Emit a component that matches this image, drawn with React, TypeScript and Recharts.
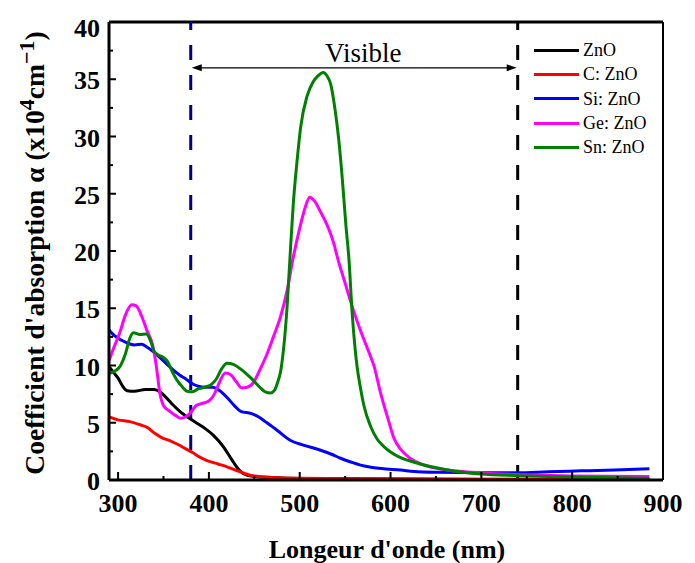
import { LineChart, Line, XAxis, YAxis, ReferenceLine, Legend } from "recharts";

const FONT = "'Liberation Serif', 'Times New Roman', serif";

// wavelength (nm), alpha (x10^4 cm-1) pairs
const ZNO: [number, number][] = [
  [290, 9.9], [295, 9.4], [300, 8.9], [305, 8.2], [310, 7.8], [318, 7.75], [330, 7.9],
  [340, 7.9], [346, 7.7], [353, 7.2], [360, 6.6], [368, 6.0], [380, 5.3], [394, 4.6],
  [405, 3.9], [416, 2.9], [425, 1.8], [431, 1.1], [438, 0.55], [450, 0.3], [480, 0.18],
  [550, 0.1], [700, 0.06], [885, 0.05],
];

const C_ZNO: [number, number][] = [
  [290, 5.5], [300, 5.25], [313, 5.1], [325, 4.8], [332, 4.6], [340, 4.1], [348, 3.7],
  [358, 3.4], [366, 3.1], [375, 2.7], [382, 2.4], [390, 2.0], [398, 1.7], [410, 1.4],
  [420, 1.15], [430, 0.85], [440, 0.55], [450, 0.35], [470, 0.22], [500, 0.15],
  [600, 0.08], [700, 0.05], [885, 0.05],
];

const SI_ZNO: [number, number][] = [
  [290, 13.1], [296, 12.6], [304, 12.2], [312, 11.9], [318, 11.8], [326, 11.85],
  [332, 11.6], [339, 11.2], [346, 10.7], [354, 10.1], [361, 9.6], [368, 9.15],
  [375, 8.8], [380, 8.5], [388, 8.2], [396, 8.1], [404, 8.1], [412, 7.8], [420, 7.2],
  [428, 6.5], [435, 6.0], [447, 5.8], [455, 5.5], [462, 5.1], [475, 4.35], [490, 3.45],
  [504, 3.05], [523, 2.6], [535, 2.25], [545, 1.9], [557, 1.55], [567, 1.3], [580, 1.1],
  [590, 1.0], [611, 0.87], [626, 0.75], [650, 0.68], [700, 0.64], [740, 0.64],
  [773, 0.72], [810, 0.8], [847, 0.88], [885, 0.98],
];

const GE_ZNO: [number, number][] = [
  [290, 10.4], [295, 11.5], [302, 12.9], [308, 14.4], [315, 15.3], [320, 15.2],
  [326, 14.3], [332, 13.0], [338, 11.8], [342, 10.0], [346, 7.6], [350, 6.5], [357, 6.0],
  [364, 5.6], [369, 5.4], [374, 5.5], [380, 5.9], [386, 6.5], [393, 6.7], [400, 6.9],
  [406, 7.5], [412, 8.6], [418, 9.35], [424, 9.2], [430, 8.6], [436, 8.05], [442, 8.1],
  [449, 8.5], [456, 9.6], [464, 11.0], [471, 12.5], [479, 14.3], [486, 16.5],
  [493, 19.5], [500, 22.0], [506, 23.8], [511, 24.7], [516, 24.4], [523, 23.4],
  [530, 22.3], [537, 20.8], [543, 19.0], [550, 17.2], [556, 15.6], [563, 13.9],
  [571, 12.2], [577, 11.0], [582, 9.9], [589, 7.6], [597, 5.4], [604, 3.6], [611, 2.7],
  [620, 2.0], [632, 1.45], [645, 1.1], [663, 0.87], [700, 0.62], [750, 0.45],
  [800, 0.35], [885, 0.3],
];

const SN_ZNO: [number, number][] = [
  [290, 9.3], [296, 9.5], [302, 9.9], [308, 11.0], [313, 12.4], [317, 12.85],
  [324, 12.7], [331, 12.75], [336, 12.1], [340, 11.2], [345, 10.9], [350, 10.7],
  [354, 10.4], [360, 9.4], [365, 8.7], [370, 8.2], [376, 7.75], [382, 7.7], [388, 7.95],
  [395, 8.1], [402, 8.3], [408, 8.8], [414, 9.7], [420, 10.2], [427, 10.1], [434, 9.75],
  [441, 9.3], [449, 8.7], [456, 8.1], [462, 7.7], [468, 7.6], [472, 7.8], [476, 8.6],
  [479, 9.5], [482, 11.3], [486, 15.0], [490, 20.4], [493, 24.2], [497, 27.8],
  [501, 30.8], [508, 33.5], [515, 34.8], [520, 35.3], [526, 35.6],
  [530, 35.3], [534, 34.6], [539, 32.3], [543, 29.7], [547, 26.2], [551, 22.1],
  [554, 19.5], [558, 14.3], [563, 10.0], [567, 8.0], [571, 6.4], [578, 4.7], [585, 3.6],
  [593, 2.9], [600, 2.45], [611, 1.95], [626, 1.55], [645, 1.15], [663, 0.87],
  [699, 0.52], [740, 0.38], [773, 0.3], [830, 0.22], [885, 0.15],
];

const SERIES = [
  { name: "ZnO", data: ZNO, color: "#000000" },
  { name: "C: ZnO", data: C_ZNO, color: "#ff0000" },
  { name: "Si: ZnO", data: SI_ZNO, color: "#0000ff" },
  { name: "Ge: ZnO", data: GE_ZNO, color: "#ff00ff" },
  { name: "Sn: ZnO", data: SN_ZNO, color: "#008000" },
];

const X_TICKS = [300, 350, 400, 450, 500, 550, 600, 650, 700, 750, 800, 850, 900];
const Y_TICKS = [0, 2.5, 5, 7.5, 10, 12.5, 15, 17.5, 20, 22.5, 25, 27.5, 30, 32.5, 35, 37.5, 40];

const UV_EDGE = 380;
const IR_EDGE = 740;

function XTick({ x, y, payload }: any) {
  const v = payload.value;
  const major = v % 100 === 0;
  return (
    <g>
      <line x1={x} x2={x} y1={y} y2={y - (major ? 8 : 4)} stroke="#000" strokeWidth={2} />
      {major && (
        <text x={x} y={y + 32} textAnchor="middle" fontFamily={FONT} fontWeight="bold" fontSize={26} fill="#000">
          {v}
        </text>
      )}
    </g>
  );
}

function YTick({ x, y, payload }: any) {
  const v = payload.value;
  const major = v % 5 === 0;
  // the top label sits a little lower than its tick in the original
  const dy = v === 40 ? 15 : 10;
  return (
    <g>
      <line x1={x} x2={x + (major ? 7 : 4)} y1={y} y2={y} stroke="#000" strokeWidth={2} />
      {major && (
        <text x={x - 9} y={y + dy} textAnchor="end" fontFamily={FONT} fontWeight="bold" fontSize={26} fill="#000">
          {v}
        </text>
      )}
    </g>
  );
}

function VisibleArrow({ x1, y1, x2 }: any) {
  const a = x1 + 1;
  const b = x2 - 1;
  return (
    <g>
      <line x1={a + 8} x2={b - 8} y1={y1} y2={y1} stroke="#000" strokeWidth={1.2} />
      <polygon points={`${a},${y1} ${a + 10},${y1 - 3.5} ${a + 10},${y1 + 3.5}`} fill="#000" />
      <polygon points={`${b},${y1} ${b - 10},${y1 - 3.5} ${b - 10},${y1 + 3.5}`} fill="#000" />
      <text x={(x1 + x2) / 2 + 9} y={y1 - 6} textAnchor="middle" fontFamily={FONT} fontSize={27} fill="#000">
        Visible
      </text>
    </g>
  );
}

function LegendBox() {
  return (
    <div style={{ fontFamily: FONT, fontSize: 18, color: "#000" }}>
      {SERIES.map((s) => (
        <div key={s.name} style={{ display: "flex", alignItems: "center", height: 24.3 }}>
          <div style={{ width: 45, height: 3, background: s.color, marginRight: 4 }} />
          <span style={{ lineHeight: "18px" }}>{s.name}</span>
        </div>
      ))}
    </div>
  );
}

export default function App() {
  return (
    <div style={{ position: "absolute", left: 0, top: 0, width: 695, height: 563, background: "#fff" }}>
      <LineChart width={695} height={563} margin={{ top: 22, right: 32, bottom: 0, left: 0 }}>
        <XAxis
          dataKey="x"
          type="number"
          domain={[290, 900]}
          ticks={X_TICKS}
          interval={0}
          allowDataOverflow
          height={83}
          tickSize={0}
          tickMargin={0}
          tick={<XTick />}
          axisLine={{ stroke: "#000", strokeWidth: 3 }}
          label={{
            content: () => (
              <text x={387} y={558} textAnchor="middle" fontFamily={FONT} fontWeight="bold" fontSize={26} fill="#000">
                Longeur d'onde (nm)
              </text>
            ),
          }}
        />
        <YAxis
          type="number"
          domain={[0, 40]}
          ticks={Y_TICKS}
          interval={0}
          width={109}
          tickSize={0}
          tickMargin={0}
          tick={<YTick />}
          axisLine={{ stroke: "#000", strokeWidth: 3 }}
          label={{
            content: () => (
              <text
                transform="translate(44, 253) rotate(-90)"
                textAnchor="middle"
                fontFamily={FONT}
                fontWeight="bold"
                fontSize={27.5}
                fill="#000"
              >
                Coefficient d'absorption α (x10
                <tspan dy={-10} fontSize={22}>4</tspan>
                <tspan dy={10}>cm</tspan>
                <tspan dy={-10} fontSize={22}>−1</tspan>
                <tspan dy={10}>)</tspan>
              </text>
            ),
          }}
        />
        <ReferenceLine y={40} stroke="#000" strokeWidth={3} />
        <ReferenceLine x={900} stroke="#000" strokeWidth={2} />
        <ReferenceLine x={UV_EDGE} stroke="#000080" strokeWidth={3} strokeDasharray="15 15" />
        <ReferenceLine x={IR_EDGE} stroke="#000" strokeWidth={3} strokeDasharray="15 15" />
        <ReferenceLine
          segment={[{ x: UV_EDGE, y: 36 }, { x: IR_EDGE, y: 36 }]}
          shape={(p: any) => <VisibleArrow {...p} />}
        />
        {SERIES.map((s) => (
          <Line
            key={s.name}
            name={s.name}
            data={s.data.map(([x, y]) => ({ x, y }))}
            dataKey="y"
            type="monotone"
            stroke={s.color}
            strokeWidth={3}
            dot={false}
            activeDot={false}
            isAnimationActive={false}
          />
        ))}
        <Legend
          layout="vertical"
          align="center"
          verticalAlign="middle"
          content={() => <LegendBox />}
          wrapperStyle={{ position: "absolute", left: 534, top: 38, width: 130, height: "auto" }}
        />
      </LineChart>
    </div>
  );
}
